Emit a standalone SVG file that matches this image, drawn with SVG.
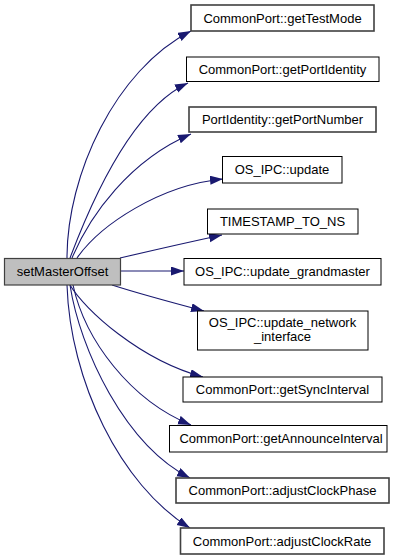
<svg xmlns="http://www.w3.org/2000/svg" width="401" height="560" viewBox="0 0 401 560">
<style>
.n rect{fill:#fff;stroke:#000;stroke-width:1}
.n.d rect{stroke:#404040;stroke-width:1.6}
.n.root rect{fill:#bfbfbf;stroke:#404040;stroke-width:1.2}
.n text{font-family:"Liberation Sans",Arial,sans-serif;font-size:13px;fill:#000;text-anchor:middle}
#edges path{fill:none;stroke:#191970;stroke-width:1.1;marker-end:url(#ah)}
</style>
<defs>
<marker id="ah" markerUnits="userSpaceOnUse" markerWidth="14" markerHeight="10" refX="13" refY="4.5" orient="auto">
<path d="M0,0 L13,4.5 L0,9 z" fill="#191970"/>
</marker>
</defs>
<rect width="401" height="560" fill="#fff"/>
<g id="edges">
<path d="M67,258 C67,175 115,70 191,31"/>
<path d="M70,258 C90,205 130,110 188,83"/>
<path d="M72,258 C90,215 130,160 191,134"/>
<path d="M77,258 C100,225 160,185 223,179"/>
<path d="M120,258 C150,251 185,243 222,235"/>
<path d="M121,271 L184,271"/>
<path d="M112,285 C140,294 170,302 204,311"/>
<path d="M70,285 C85,310 140,360 203,377"/>
<path d="M73,285 C85,340 130,400 191,425"/>
<path d="M70,285 C80,350 125,445 190,478"/>
<path d="M67,285 C70,380 120,485 190,528"/>
</g>
<g id="setMasterOffset" class="n root"><rect x="4.5" y="258.5" width="116" height="26.5"/><text x="62.5" y="276">setMasterOffset</text></g>
<g id="getTestMode" class="n d"><rect x="191" y="5" width="183" height="26"/><text x="282.5" y="22.5">CommonPort::getTestMode</text></g>
<g id="getPortIdentity" class="n"><rect x="186.5" y="57" width="192.5" height="24.5"/><text x="282.5" y="73.5">CommonPort::getPortIdentity</text></g>
<g id="getPortNumber" class="n d"><rect x="189" y="107" width="187" height="25"/><text x="282.5" y="124">PortIdentity::getPortNumber</text></g>
<g id="update" class="n"><rect x="222.5" y="156.5" width="119.5" height="26.5"/><text x="282" y="174">OS_IPC::update</text></g>
<g id="TIMESTAMP_TO_NS" class="n"><rect x="207.5" y="209" width="150.5" height="25"/><text x="282.5" y="226">TIMESTAMP_TO_NS</text></g>
<g id="update_grandmaster" class="n"><rect x="184" y="258.5" width="197" height="26.5"/><text x="282.5" y="276">OS_IPC::update_grandmaster</text></g>
<g id="update_network_interface" class="n"><rect x="197.5" y="311" width="170.5" height="39"/><text x="282.5" y="327">OS_IPC::update_network</text><text x="282.5" y="341">_interface</text></g>
<g id="getSyncInterval" class="n"><rect x="183" y="377" width="199" height="25"/><text x="282.5" y="394">CommonPort::getSyncInterval</text></g>
<g id="getAnnounceInterval" class="n"><rect x="169.5" y="425.5" width="217.5" height="26.5"/><text x="281" y="443">CommonPort::getAnnounceInterval</text></g>
<g id="adjustClockPhase" class="n d"><rect x="176" y="478" width="213" height="25"/><text x="282.5" y="495">CommonPort::adjustClockPhase</text></g>
<g id="adjustClockRate" class="n d"><rect x="180.5" y="528" width="203.5" height="26"/><text x="282" y="545.5">CommonPort::adjustClockRate</text></g>
</svg>
